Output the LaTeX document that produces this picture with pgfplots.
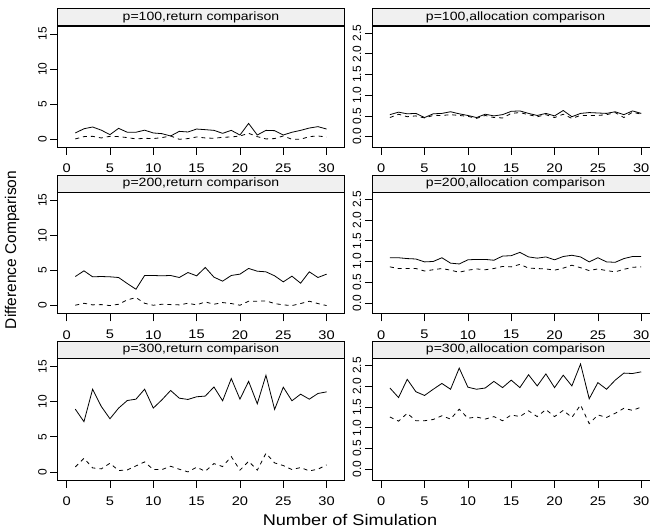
\documentclass[border=0pt]{standalone}
\usepackage{pgfplots}
\usepackage{pgfplotstable}
\pgfplotsset{compat=1.18}
\usepackage{fontspec}
\setmainfont{Liberation Sans}[FakeStretch=1.17]
\newfontfamily\rotfont{Liberation Sans}
\definecolor{stripgray}{RGB}{240,240,240}

% p=100 return
\pgfplotstableread{
x s d
1 0.90 0.05
2 1.50 0.38
3 1.75 0.42
4 1.30 0.19
5 0.66 0.42
6 1.56 0.38
7 1.00 0.24
8 1.00 0.05
9 1.30 0.14
10 0.90 0.10
11 0.80 0.24
12 0.47 0.47
13 1.13 0.00
14 1.04 0.10
15 1.46 0.33
16 1.37 0.19
17 1.27 0.14
18 0.85 0.28
19 1.27 0.33
20 0.61 0.47
21 2.26 0.85
22 0.61 0.38
23 1.27 0.05
24 1.23 0.10
25 0.61 0.47
26 1.00 0.00
27 1.27 0.00
28 1.60 0.38
29 1.80 0.47
30 1.46 0.33
}\tabA
% p=100 allocation
\pgfplotstableread{
x s d
1 0.53 0.46
2 0.59 0.54
3 0.55 0.48
4 0.56 0.50
5 0.46 0.45
6 0.55 0.51
7 0.56 0.51
8 0.60 0.53
9 0.55 0.51
10 0.51 0.49
11 0.46 0.44
12 0.54 0.51
13 0.50 0.46
14 0.53 0.45
15 0.61 0.56
16 0.62 0.58
17 0.56 0.53
18 0.51 0.48
19 0.56 0.53
20 0.50 0.46
21 0.63 0.54
22 0.48 0.44
23 0.56 0.51
24 0.58 0.51
25 0.57 0.51
26 0.56 0.53
27 0.60 0.58
28 0.53 0.46
29 0.62 0.59
30 0.56 0.54
}\tabB
% p=200 return
\pgfplotstableread{
x s d
1 4.14 0.05
2 4.95 0.33
3 4.10 0.10
4 4.14 0.14
5 4.10 0.00
6 4.00 0.19
7 3.14 0.81
8 2.33 1.14
9 4.29 0.33
10 4.29 0.05
11 4.24 0.19
12 4.29 0.14
13 4.00 0.10
14 4.71 0.33
15 4.24 0.10
16 5.43 0.52
17 4.05 0.19
18 3.48 0.43
19 4.29 0.29
20 4.48 0.05
21 5.29 0.62
22 4.90 0.62
23 4.81 0.67
24 4.24 0.29
25 3.38 0.10
26 4.19 0.00
27 3.19 0.29
28 4.81 0.62
29 4.00 0.29
30 4.48 0.00
}\tabC
% p=200 allocation
\pgfplotstableread{
x s d
1 1.09 0.87
2 1.09 0.83
3 1.07 0.83
4 1.06 0.83
5 0.99 0.77
6 1.00 0.80
7 1.09 0.83
8 0.96 0.79
9 0.94 0.74
10 1.04 0.79
11 1.05 0.82
12 1.05 0.80
13 1.03 0.83
14 1.13 0.88
15 1.14 0.87
16 1.22 0.93
17 1.11 0.84
18 1.08 0.83
19 1.11 0.82
20 1.04 0.79
21 1.12 0.84
22 1.15 0.91
23 1.11 0.85
24 0.99 0.78
25 1.09 0.82
26 0.99 0.78
27 0.98 0.75
28 1.07 0.81
29 1.12 0.86
30 1.12 0.87
}\tabD
% p=300 return
\pgfplotstableread{
x s d
1 8.94 0.71
2 7.15 1.94
3 11.78 0.57
4 9.32 0.43
5 7.57 1.23
6 9.09 0.19
7 10.17 0.28
8 10.36 0.85
9 11.78 1.42
10 9.09 0.33
11 10.27 0.33
12 11.60 0.80
13 10.50 0.38
14 10.32 0.00
15 10.70 0.66
16 10.80 0.09
17 12.10 1.18
18 10.13 0.76
19 13.30 2.18
20 10.36 0.24
21 12.90 1.51
22 9.70 0.24
23 13.77 2.65
24 8.90 1.28
25 12.07 0.90
26 10.13 0.33
27 11.07 0.62
28 10.36 0.14
29 11.17 0.38
30 11.40 1.00
}\tabE
% p=300 allocation
\pgfplotstableread{
x s d
1 1.96 1.26
2 1.73 1.16
3 2.17 1.35
4 1.87 1.17
5 1.78 1.17
6 1.93 1.20
7 2.07 1.29
8 1.93 1.21
9 2.44 1.45
10 1.98 1.23
11 1.93 1.26
12 1.96 1.21
13 2.12 1.27
14 1.97 1.17
15 2.15 1.31
16 1.97 1.27
17 2.28 1.41
18 2.01 1.27
19 2.30 1.44
20 1.97 1.27
21 2.27 1.42
22 2.01 1.25
23 2.54 1.55
24 1.70 1.10
25 2.09 1.31
26 1.93 1.25
27 2.15 1.35
28 2.32 1.47
29 2.31 1.42
30 2.35 1.50
}\tabF

\pgfplotsset{
  panel/.style={
    scale only axis, width=286.5bp, height=121.5bp,
    xmin=-1.03, xmax=32.03, clip=false,
    axis line style={line width=0.75bp},
    tick style={line width=0.75bp, black},
    tick align=outside, major tick length=7.5bp,
    xtick={0,5,10,15,20,25,30},
    xtick pos=left, ytick pos=left,
    /pgf/number format/assume math mode=true,
    xticklabel style={font=\fontsize{12.5bp}{14bp}\selectfont, yshift=-5.5bp},
    yticklabel style={font=\rotfont\fontsize{12bp}{14bp}\selectfont, rotate=90, anchor=south},
    every axis title/.style={at={(0.5,1)}, anchor=south, draw=black, fill=stripgray,
      line width=0.75bp, minimum width=286.5bp, minimum height=17bp, inner sep=0pt,
      font=\fontsize{12bp}{14bp}\selectfont},
  },
  retpanel/.style={panel, ymin=-1.17, ymax=16.14, ytick={0,5,10,15}},
  allpanel/.style={panel, ymin=-0.263, ymax=2.67, ytick={0,0.5,1,1.5,2,2.5},
    yticklabel style={/pgf/number format/.cd, fixed, fixed zerofill, precision=1}},
  solidline/.style={black, solid, line width=0.8bp, mark=none},
  dashedline/.style={black, line width=0.8bp, mark=none, dash pattern=on 4bp off 4bp},
}

\begin{document}
\begin{tikzpicture}
\begin{axis}[retpanel, at={(57.7bp,383.5bp)}, anchor=south west, title={p=100,return comparison}]
\addplot[solidline] table[x=x,y=s]{\tabA};
\addplot[dashedline] table[x=x,y=d]{\tabA};
\end{axis}
\begin{axis}[allpanel, at={(372.3bp,383.5bp)}, anchor=south west, title={p=100,allocation comparison}]
\addplot[solidline] table[x=x,y=s]{\tabB};
\addplot[dashedline] table[x=x,y=d]{\tabB};
\end{axis}
\begin{axis}[retpanel, at={(57.7bp,217.2bp)}, anchor=south west, title={p=200,return comparison}]
\addplot[solidline] table[x=x,y=s]{\tabC};
\addplot[dashedline] table[x=x,y=d]{\tabC};
\end{axis}
\begin{axis}[allpanel, at={(372.3bp,217.2bp)}, anchor=south west, title={p=200,allocation comparison}]
\addplot[solidline] table[x=x,y=s]{\tabD};
\addplot[dashedline] table[x=x,y=d]{\tabD};
\end{axis}
\begin{axis}[retpanel, at={(57.7bp,50.9bp)}, anchor=south west, title={p=300,return comparison}]
\addplot[solidline] table[x=x,y=s]{\tabE};
\addplot[dashedline] table[x=x,y=d]{\tabE};
\end{axis}
\begin{axis}[allpanel, at={(372.3bp,50.9bp)}, anchor=south west, title={p=300,allocation comparison}]
\addplot[solidline] table[x=x,y=s]{\tabF};
\addplot[dashedline] table[x=x,y=d]{\tabF};
\end{axis}
\node[font=\fontsize{15.5bp}{18bp}\selectfont] at (350bp,11bp) {Number of Simulation};
\node[rotate=90, font=\rotfont\fontsize{15.5bp}{18bp}\selectfont] at (12bp,281bp) {Difference Comparison};
\pgfresetboundingbox
\path[use as bounding box] (0,0) rectangle (650bp,531bp);
\end{tikzpicture}
\end{document}
